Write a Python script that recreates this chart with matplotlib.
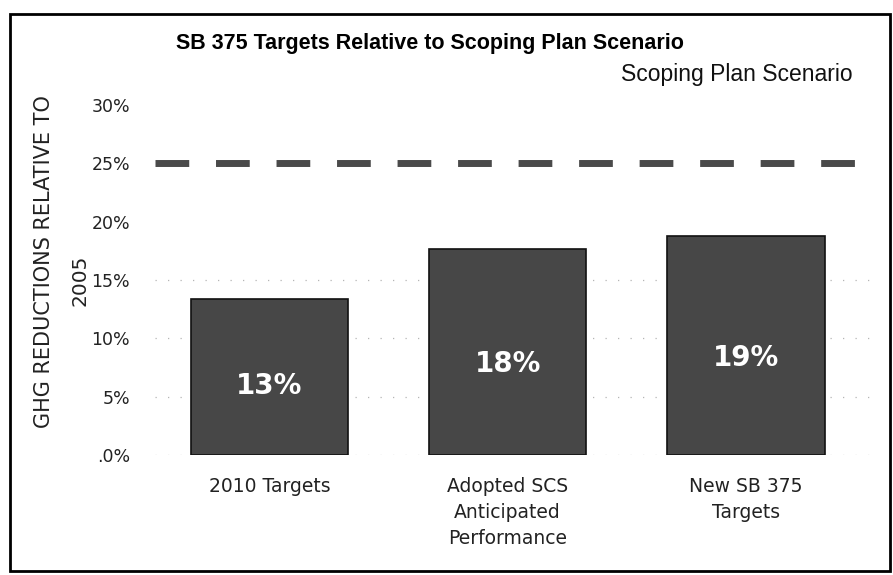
import matplotlib
matplotlib.use("Agg")
import matplotlib.pyplot as plt
from matplotlib.patches import Rectangle

# chart data
categories = ["2010 Targets", "Adopted SCS\nAnticipated\nPerformance", "New SB 375\nTargets"]
values = [13.4, 17.7, 18.8]
bar_labels = ["13%", "18%", "19%"]
scenario_level = 25
yticks = [0, 5, 10, 15, 20, 25, 30]
ytick_labels = [".0%", "5%", "10%", "15%", "20%", "25%", "30%"]
dotted_levels = [0, 5, 10, 15]

plt.rcParams["font.family"] = ["DejaVu Sans"]

fig = plt.figure(figsize=(8.93, 5.75), dpi=100)
ax = fig.add_axes([155 / 893, 1 - 455 / 575, 715 / 893, 350 / 575])

x = range(len(categories))
ax.bar(x, values, width=0.66, color="#474747", edgecolor="#111111", linewidth=1.2, zorder=3)
for xi, v, lab in zip(x, values, bar_labels):
    ax.text(xi, v * 0.44, lab, color="white", fontsize=20, ha="center", va="center",
            fontweight="bold", zorder=4)

ax.axhline(scenario_level, color="#4a4a4a", lw=5, zorder=2,
           linestyle=(0, (34 / 7, 27 / 7)), dash_capstyle="butt")
for lvl in dotted_levels:
    ax.axhline(lvl, color="#b5b5b5", lw=0.9, linestyle=(0, (1, 9)), zorder=1)

ax.set_xlim(-0.48, 2.52)
ax.set_ylim(0, 30)
ax.set_yticks(yticks)
ax.set_yticklabels(ytick_labels, fontsize=12.5, color="#222222")
ax.set_xticks(list(x))
ax.set_xticklabels(categories, fontsize=13.5, color="#222222", linespacing=1.45)
ax.tick_params(axis="both", length=0)
ax.tick_params(axis="y", pad=18)
ax.tick_params(axis="x", pad=16)
for s in ax.spines.values():
    s.set_visible(False)

# y axis title, two lines placed separately
fig.text(44 / 893, 1 - 262 / 575, "GHG REDUCTIONS RELATIVE TO", rotation=90,
         fontsize=15, color="#222222", ha="center", va="center")
fig.text(80 / 893, 1 - 280 / 575, "2005", rotation=90,
         fontsize=14.5, color="#222222", ha="center", va="center")

fig.text(430 / 893, 1 - 43 / 575, "SB 375 Targets Relative to Scoping Plan Scenario",
         fontsize=15.5, fontweight="bold", family="Liberation Sans", ha="center", va="center")
fig.text(853 / 893, 1 - 75 / 575, "Scoping Plan Scenario", fontsize=16.5,
         family="Liberation Sans", ha="right", va="center", color="#111111")

# frame around the figure
fig.patches.append(Rectangle((10 / 893, 4 / 575), 880 / 893, 557 / 575,
                             transform=fig.transFigure, fill=False,
                             edgecolor="black", linewidth=2))

fig.savefig("out.png", dpi=100)
